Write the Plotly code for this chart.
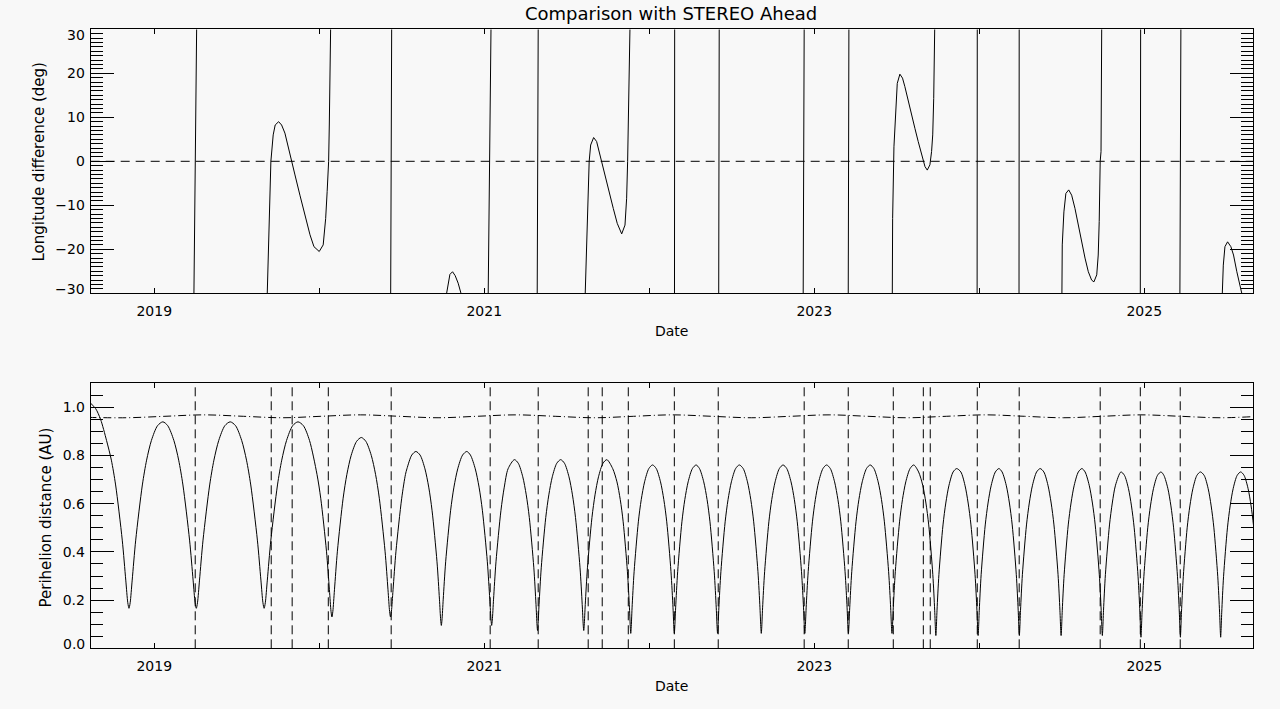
import plotly.graph_objects as go

# ---------------- data ----------------
X_RANGE = [2018.615, 2025.659]            # decimal years (launch .. end)
YEAR_TICKS = [2019, 2020, 2021, 2022, 2023, 2024, 2025]
YEAR_LABELS = ["2019", "", "2021", "", "2023", "", "2025"]
LON_TICKS = [-30, -20, -10, 0, 10, 20, 30]
LON_LABELS = ["", "\u221220", "\u221210", "0", "10", "20", ""]
AU_TICKS = [0.0, 0.2, 0.4, 0.6, 0.8, 1.0]
AU_LABELS = ["", "0.2", "0.4", "0.6", "0.8", "1.0"]

# Top panel: visible pieces of the longitude difference (deg) inside +-30
LON_SEGMENTS = [
    [[2019.2406, -30], [2019.257, 30]],
    [[2019.685, -30], [2019.691, -20.2], [2019.701, -11.1], [2019.707, 0.0], [2019.721, 6.0],
     [2019.733, 8.25], [2019.754, 9.0], [2019.772, 8.25], [2019.792, 6.4], [2019.822, 1.4],
     [2019.853, -3.1], [2019.883, -7.7], [2019.913, -12.2], [2019.944, -16.7], [2019.968, -19.4],
     [2020.000, -20.5], [2020.024, -19.0], [2020.039, -13.0], [2020.048, -6.9], [2020.057, 0.0],
     [2020.061, 8.25], [2020.065, 21.1], [2020.069, 30]],
    [[2020.433, -30], [2020.439, 30]],
    [[2020.772, -30], [2020.782, -27.4], [2020.792, -25.7], [2020.808, -25.1], [2020.824, -26.0],
     [2020.842, -27.7], [2020.859, -30]],
    [[2021.024, -30], [2021.041, 30]],
    [[2021.321, -30], [2021.327, 30]],
    [[2021.612, -30], [2021.620, -20.5], [2021.630, -6.9], [2021.636, 0.0], [2021.645, 3.7],
     [2021.663, 5.4], [2021.681, 4.5], [2021.701, 1.4], [2021.721, -1.6], [2021.742, -4.6],
     [2021.762, -7.7], [2021.782, -10.7], [2021.806, -14.1], [2021.833, -16.5], [2021.853, -14.5],
     [2021.863, -8.4], [2021.869, 0.0], [2021.875, 12.0], [2021.883, 30]],
    [[2022.153, -30], [2022.154, 30]],
    [[2022.421, -30], [2022.424, 30]],
    [[2022.933, -30], [2022.939, 30]],
    [[2023.206, -30], [2023.210, 30]],
    [[2023.473, -30], [2023.475, -13.0], [2023.483, 3.3], [2023.493, 11.3], [2023.503, 17.7],
     [2023.519, 19.8], [2023.535, 18.9], [2023.549, 17.0], [2023.570, 13.5], [2023.590, 10.5],
     [2023.610, 7.5], [2023.630, 4.5], [2023.651, 1.4], [2023.671, -1.2], [2023.685, -2.0],
     [2023.701, -0.8], [2023.711, 2.2], [2023.718, 6.0], [2023.724, 14.3], [2023.727, 21.9],
     [2023.730, 30]],
    [[2023.987, -30], [2023.988, 30]],
    [[2024.241, -30], [2024.242, 30]],
    [[2024.501, -30], [2024.503, -19.0], [2024.513, -11.5], [2024.525, -7.3], [2024.542, -6.5],
     [2024.560, -7.7], [2024.580, -10.7], [2024.600, -14.5], [2024.621, -18.3], [2024.641, -22.0],
     [2024.661, -25.1], [2024.681, -27.0], [2024.695, -27.4], [2024.712, -25.8], [2024.721, -21.3],
     [2024.727, -13.7], [2024.733, 0.0], [2024.738, 2.2], [2024.742, 30]],
    [[2024.976, -30], [2024.978, 30]],
    [[2025.216, -30], [2025.222, 30]],
    [[2025.473, -30], [2025.479, -23.6], [2025.489, -19.4], [2025.505, -18.3], [2025.525, -19.4],
     [2025.541, -21.3], [2025.561, -25.1], [2025.577, -27.7], [2025.591, -30]],
]

# Bottom panel: dates where the longitude difference changes sign (dashed lines)
CROSSINGS = [2019.2485, 2019.709, 2019.836, 2020.055, 2020.436, 2021.036, 2021.327,
             2021.630, 2021.715, 2021.873, 2022.152, 2022.418, 2022.939, 2023.206,
             2023.479, 2023.661, 2023.703, 2023.988, 2024.242, 2024.733, 2024.976, 2025.218]

# Probe heliocentric distance: perihelion dates (decimal years)
PERIHELIA = [2018.847, 2019.255, 2019.666, 2020.077, 2020.432, 2020.740, 2021.045,
             2021.323, 2021.603, 2021.888, 2022.152, 2022.414, 2022.679, 2022.943,
             2023.207, 2023.471, 2023.737, 2023.993, 2024.243, 2024.496, 2024.746,
             2024.980, 2025.219, 2025.463, 2025.705]

# Orbit-phase profiles: days from perihelion and distance (AU), perihelion -> aphelion
PHASE_DAYS = {
    "A": [0, 2.6, 7.1, 14.9, 29.6, 39.0, 49.7, 63.2, 75.0],
    "B": [0, 2.0, 5.6, 12.1, 24.8, 33.1, 42.6, 54.6, 65.0],
    "C": [0, 1.4, 4.2, 9.6, 20.6, 27.9, 36.3, 47.0, 56.3],
    "D": [0, 1.1, 3.4, 8.2, 18.2, 25.0, 32.7, 42.6, 51.2],
    "E": [0, 0.9, 2.9, 7.4, 16.8, 23.2, 30.6, 40.0, 48.2],
    "F": [0, 0.8, 2.6, 6.8, 15.8, 22.0, 29.1, 38.2, 46.1],
    "G": [0, 0.7, 2.4, 6.4, 15.0, 21.0, 27.8, 36.6, 44.3],
}
PHASE_AU = {
    "A": [0.166, 0.189, 0.283, 0.449, 0.678, 0.781, 0.863, 0.924, 0.940],
    "B": [0.130, 0.153, 0.243, 0.403, 0.623, 0.722, 0.801, 0.859, 0.875],
    "C": [0.095, 0.117, 0.204, 0.359, 0.573, 0.669, 0.745, 0.802, 0.817],
    "D": [0.074, 0.096, 0.182, 0.334, 0.543, 0.637, 0.712, 0.768, 0.783],
    "E": [0.062, 0.083, 0.168, 0.318, 0.525, 0.617, 0.691, 0.746, 0.761],
    "F": [0.053, 0.074, 0.158, 0.307, 0.512, 0.603, 0.677, 0.732, 0.746],
    "G": [0.046, 0.067, 0.150, 0.297, 0.500, 0.591, 0.664, 0.718, 0.732],
}
LAUNCH_X = [2018.615, 2018.645, 2018.675]
LAUNCH_AU = [1.017, 0.995, 0.950]

ALL = [0, 1, 2, 3, 4, 5, 6, 7, 8]
INB = [7, 6, 5, 4, 3, 2, 1]
PSP_PIECES = [
    ("launch",),
    ("in", 0, "A", [6, 5, 4, 3, 2, 1]),
    ("out", 0, "A", ALL), ("in", 1, "A", INB),
    ("out", 1, "A", ALL), ("in", 2, "A", INB),
    ("out", 2, "A", ALL), ("in", 3, "A", [7, 6]), ("in", 3, "B", [5, 4, 3, 2, 1]),
    ("out", 3, "B", ALL), ("in", 4, "B", INB),
    ("out", 4, "B", [0, 1, 2, 3, 4, 5]), ("out", 4, "C", [6, 7]),
    ("in", 5, "C", [8, 7, 6, 5, 4, 3, 2, 1]),
    ("out", 5, "C", ALL), ("in", 6, "C", INB),
    ("out", 6, "C", [0, 1, 2, 3, 4, 5, 6]), ("in", 7, "D", [8, 7, 6, 5, 4, 3, 2, 1]),
    ("out", 7, "D", ALL), ("in", 8, "D", INB),
    ("out", 8, "D", ALL), ("in", 9, "E", INB),
    ("out", 9, "E", ALL), ("in", 10, "E", INB),
    ("out", 10, "E", ALL), ("in", 11, "E", INB),
    ("out", 11, "E", ALL), ("in", 12, "E", INB),
    ("out", 12, "E", ALL), ("in", 13, "E", INB),
    ("out", 13, "E", ALL), ("in", 14, "E", INB),
    ("out", 14, "E", ALL), ("in", 15, "E", INB),
    ("out", 15, "E", ALL), ("in", 16, "F", INB),
    ("out", 16, "F", ALL), ("in", 17, "F", INB),
    ("out", 17, "F", ALL), ("in", 18, "F", INB),
    ("out", 18, "F", ALL), ("in", 19, "F", INB),
    ("out", 19, "F", ALL), ("in", 20, "F", INB),
    ("out", 20, "F", [0, 1, 2, 3, 4, 5, 6]), ("in", 21, "G", [8, 7, 6, 5, 4, 3, 2, 1]),
    ("out", 21, "G", ALL), ("in", 22, "G", INB),
    ("out", 22, "G", ALL), ("in", 23, "G", INB),
    ("out", 23, "G", ALL), ("in", 24, "G", [7, 6, 5, 4]),
]

# STEREO-A heliocentric distance (AU)
STA_X = [2018.600, 2018.830, 2019.065, 2019.300, 2019.540, 2019.780, 2020.010, 2020.250,
         2020.485, 2020.720, 2020.955, 2021.190, 2021.430, 2021.670, 2021.905, 2022.140,
         2022.380, 2022.620, 2022.855, 2023.090, 2023.325, 2023.560, 2023.800, 2024.040,
         2024.275, 2024.510, 2024.745, 2024.980, 2025.220, 2025.460, 2025.700]
STA_AU = [0.9585, 0.957, 0.963, 0.969, 0.963, 0.957, 0.963, 0.969,
          0.963, 0.957, 0.963, 0.969, 0.963, 0.957, 0.963, 0.969,
          0.963, 0.957, 0.963, 0.969, 0.963, 0.957, 0.963, 0.969,
          0.963, 0.957, 0.963, 0.969, 0.963, 0.957, 0.963]

# ---------------- assemble series ----------------
lon_x, lon_y = [], []
for seg in LON_SEGMENTS:
    for px, py in seg:
        lon_x.append(px)
        lon_y.append(py)
    lon_x.append(None)
    lon_y.append(None)

psp_x, psp_y = [], []
for piece in PSP_PIECES:
    kind = piece[0]
    if kind == "launch":
        psp_x += LAUNCH_X
        psp_y += LAUNCH_AU
    else:
        _, k, ph, idx = piece
        sign = 1 if kind == "out" else -1
        for i in idx:
            psp_x.append(PERIHELIA[k] + sign * PHASE_DAYS[ph][i] / 365.25)
            psp_y.append(PHASE_AU[ph][i])

# ---------------- figure ----------------
BG = "#f8f8f8"
FONT = "DejaVu Sans"
W, H = 1280, 709
X_DOM = [90.7 / W, 1253 / W]
Y1_DOM = [(H - 293.3) / H, (H - 29.3) / H]
Y2_DOM = [(H - 648.3) / H, (H - 383.3) / H]

fig = go.Figure()
fig.add_trace(go.Scatter(x=lon_x, y=lon_y, mode="lines", connectgaps=False,
                         line=dict(color="black", width=1), xaxis="x", yaxis="y",
                         hoverinfo="skip", showlegend=False))
fig.add_trace(go.Scatter(x=STA_X, y=STA_AU, mode="lines",
                         line=dict(color="black", width=1, dash="8px,3px,1px,3px", shape="spline"),
                         xaxis="x2", yaxis="y2", hoverinfo="skip", showlegend=False))
fig.add_trace(go.Scatter(x=psp_x, y=psp_y, mode="lines",
                         line=dict(color="black", width=1, shape="spline", smoothing=0.8),
                         xaxis="x2", yaxis="y2", hoverinfo="skip", showlegend=False))

shapes = [dict(type="line", xref="x domain", yref="y", x0=0, x1=1, y0=0, y1=0,
               line=dict(color="black", width=1, dash="9px,6px"))]
for t in CROSSINGS:
    shapes.append(dict(type="line", xref="x2", yref="y2 domain", x0=t, x1=t, y0=0, y1=1,
                       line=dict(color="black", width=1, dash="9px,5px")))

tickfont = dict(family=FONT, size=14, color="black")
common = dict(showline=True, linecolor="black", linewidth=1, mirror="allticks",
              ticks="inside", tickcolor="black", tickwidth=1, showgrid=False,
              zeroline=False, tickfont=tickfont, automargin=False)
xcommon = dict(common, range=X_RANGE, tickmode="array", tickvals=YEAR_TICKS,
               ticktext=YEAR_LABELS, ticklen=5, domain=X_DOM, ticklabelstandoff=5)

annots = [
    dict(text="Comparison with STEREO Ahead", xref="paper", yref="paper",
         x=671 / W, y=1 - 14 / H, xanchor="center", yanchor="middle",
         showarrow=False, font=dict(family=FONT, size=18, color="black")),
    dict(text="Date", xref="paper", yref="paper", x=671.5 / W, y=1 - 331.3 / H,
         xanchor="center", yanchor="middle", showarrow=False,
         font=dict(family=FONT, size=14, color="black")),
    dict(text="Date", xref="paper", yref="paper", x=671.5 / W, y=1 - 685.7 / H,
         xanchor="center", yanchor="middle", showarrow=False,
         font=dict(family=FONT, size=14, color="black")),
    dict(text="Longitude difference (deg)", xref="paper", yref="paper",
         x=39 / W, y=1 - 162.5 / H, xanchor="center", yanchor="middle",
         textangle=-90, showarrow=False, font=dict(family=FONT, size=15, color="black")),
    dict(text="Perihelion distance (AU)", xref="paper", yref="paper",
         x=45 / W, y=1 - 517.5 / H, xanchor="center", yanchor="middle",
         textangle=-90, showarrow=False, font=dict(family=FONT, size=15, color="black")),
    # edge tick labels, drawn nudged inwards as in the reference
    dict(text="30", xref="paper", yref="y", x=86.5 / W, y=30, yshift=-5.5,
         xanchor="right", yanchor="middle", showarrow=False, font=tickfont),
    dict(text="\u221230", xref="paper", yref="y", x=86.5 / W, y=-30, yshift=4.5,
         xanchor="right", yanchor="middle", showarrow=False, font=tickfont),
    dict(text="0.0", xref="paper", yref="y2", x=86.5 / W, y=0, yshift=4.5,
         xanchor="right", yanchor="middle", showarrow=False, font=tickfont),
]

fig.update_layout(
    width=W, height=H, margin=dict(l=0, r=0, t=0, b=0, autoexpand=False),
    paper_bgcolor=BG, plot_bgcolor=BG, font=dict(family=FONT, color="black"),
    xaxis=dict(xcommon, anchor="y"),
    yaxis=dict(common, domain=Y1_DOM, range=[-30, 30], tickmode="array",
               tickvals=LON_TICKS, ticktext=LON_LABELS,
               ticklen=23, anchor="x", ticklabelstandoff=2,
               minor=dict(ticks="inside", ticklen=12, tickmode="linear", dtick=1, tick0=0,
                          tickcolor="black", tickwidth=1, showgrid=False)),
    xaxis2=dict(xcommon, anchor="y2"),
    yaxis2=dict(common, domain=Y2_DOM, range=[0, 1.1], tickmode="array",
                tickvals=AU_TICKS, ticktext=AU_LABELS, ticklen=23, anchor="x2",
                ticklabelstandoff=2,
                minor=dict(ticks="inside", ticklen=12, tickmode="linear", dtick=0.05, tick0=0,
                           tickcolor="black", tickwidth=1, showgrid=False)),
    shapes=shapes,
    annotations=annots,
)

fig.write_html("out.html")
